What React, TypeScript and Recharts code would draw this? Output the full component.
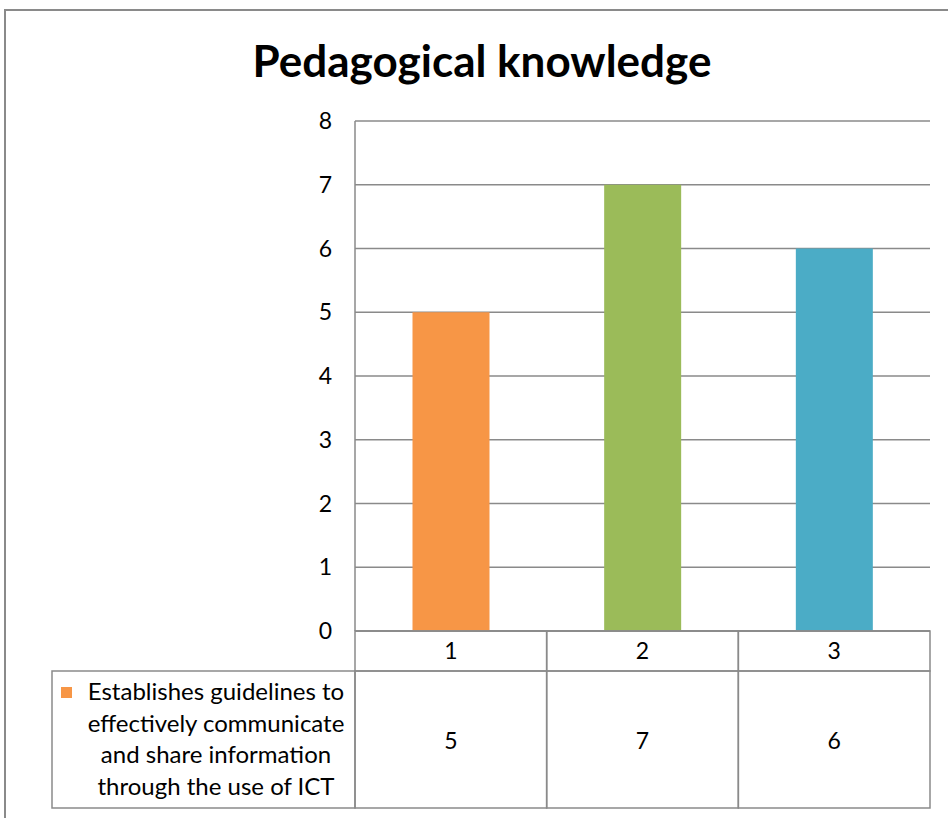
import React from "react";
import { BarChart, Bar, XAxis, YAxis, CartesianGrid, Cell } from "recharts";

const categories = ["1", "2", "3"];
const values = [5, 7, 6];
const barColors = ["#F79646", "#9BBB59", "#4BACC6"];
const yTicks = [0, 1, 2, 3, 4, 5, 6, 7, 8];
const seriesName = "Establishes guidelines to effectively communicate and share information through the use of ICT";
const seriesLines = ["Establishes guidelines to", "effectively communicate", "and share information", "through the use of ICT"];
const title = "Pedagogical knowledge";

const data = categories.map((c, i) => ({ name: c, value: values[i] }));

const W = 948;
const H = 818;
const PLOT_LEFT = 355;
const PLOT_RIGHT = 930;
const PLOT_TOP = 121;
const PLOT_BOTTOM = 631;
const COL_W = (PLOT_RIGHT - PLOT_LEFT) / categories.length;
const ROW1 = 40;
const ROW2 = 137;
const FONT = "Lato, 'Open Sans', sans-serif";
const GRID = "#8a8a8a";
const NUM_SIZE = 23;
const TXT_SIZE = 24;

const TableTick = (props: any) => {
  const { x, y, payload, index } = props;
  const val = values[payload.index ?? index];
  const left = x - COL_W / 2;
  return (
    <g>
      <rect x={left} y={y} width={COL_W} height={ROW1} fill="none" stroke={GRID} strokeWidth={1.5} />
      <rect x={left} y={y + ROW1} width={COL_W} height={ROW2} fill="none" stroke={GRID} strokeWidth={1.5} />
      <text x={x} y={y + 28} textAnchor="middle" fontSize={NUM_SIZE} fontFamily={FONT} fill="#000">
        {payload.value}
      </text>
      <text x={x} y={y + ROW1 + 78} textAnchor="middle" fontSize={NUM_SIZE} fontFamily={FONT} fill="#000">
        {val}
      </text>
    </g>
  );
};

export default function App() {
  return (
    <div style={{ position: "absolute", left: 0, top: 0, width: W, height: H, overflow: "hidden", background: "#fff" }}>
      <div
        style={{
          position: "absolute",
          left: 4,
          top: 9,
          width: 1100,
          height: 1100,
          border: "2px solid #8a8a8a",
          boxSizing: "border-box",
        }}
      />
      <div style={{ position: "absolute", left: 0, top: 0 }}>
        <BarChart
          width={W}
          height={H}
          data={data}
          margin={{ top: PLOT_TOP, right: W - PLOT_RIGHT, bottom: 0, left: PLOT_LEFT - 60 }}
          barCategoryGap="30%"
        >
          <CartesianGrid vertical={false} stroke={GRID} strokeWidth={1.5} />
          <XAxis
            dataKey="name"
            height={H - PLOT_BOTTOM}
            axisLine={{ stroke: GRID, strokeWidth: 1.5 }}
            tickLine={false}
            tickSize={0}
            tickMargin={0}
            interval={0}
            tick={<TableTick />}
          />
          <YAxis
            domain={[0, 8]}
            ticks={yTicks}
            width={60}
            axisLine={{ stroke: GRID, strokeWidth: 1.5 }}
            tickLine={false}
            tickSize={0}
            tickMargin={23}
            tick={{ fontSize: NUM_SIZE, fontFamily: FONT, fill: "#000" }}
          />
          <Bar dataKey="value" name={seriesName} isAnimationActive={false}>
            {data.map((d, i) => (
              <Cell key={d.name} fill={barColors[i]} />
            ))}
          </Bar>
        </BarChart>
      </div>
      <svg width={W} height={H} style={{ position: "absolute", left: 0, top: 0, pointerEvents: "none" }}>
        <text x={482} y={77} textAnchor="middle" fontSize={44} fontWeight="bold" fontFamily={FONT} fill="#000">
          {title}
        </text>
        <rect
          x={52}
          y={PLOT_BOTTOM + ROW1}
          width={PLOT_LEFT - 52}
          height={ROW2}
          fill="none"
          stroke={GRID}
          strokeWidth={1.5}
        />
        <rect x={61} y={687} width={11} height={11} fill={barColors[0]} />
        {seriesLines.map((line, i) => (
          <text key={i} x={216} y={700 + i * 31.5} textAnchor="middle" fontSize={TXT_SIZE} fontFamily={FONT} fill="#000">
            {line}
          </text>
        ))}
      </svg>
    </div>
  );
}
